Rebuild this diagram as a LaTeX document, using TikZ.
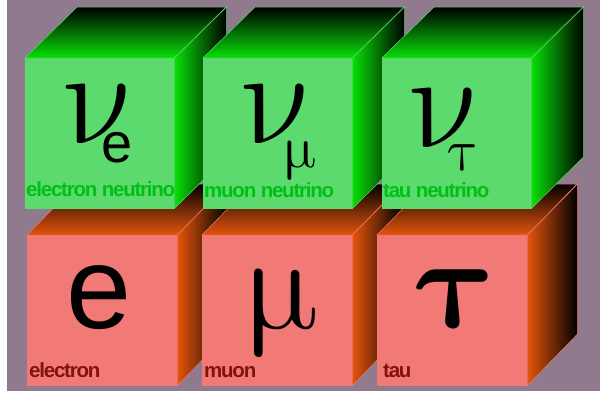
\RequirePackage{fix-cm}
\documentclass[tikz,border=0pt]{standalone}
\usepackage{fontspec}
\setmainfont{Liberation Sans}
\newfontfamily\labelfont[LetterSpace=-6,UprightFont=* Bold]{Liberation Sans}
\usetikzlibrary{calc}
\definecolor{bgpurple}{RGB}{143,122,142}
\definecolor{nufront}{RGB}{93,218,110}
\definecolor{nubright}{RGB}{8,222,8}
\definecolor{nutext}{RGB}{0,192,24}
\definecolor{lepfront}{RGB}{242,122,118}
\definecolor{leporange}{RGB}{228,84,12}
\definecolor{leptext}{RGB}{128,20,10}
\tikzset{
    nuface/.style={rectangle, draw=nufront, fill=nufront, line width=0.5pt, minimum width=149pt, minimum height=150pt, inner sep=0pt, anchor=north west},
    nutop/.style={top color=black, bottom color=nubright, draw=nufront, line width=0.5pt},
    nuside/.style={left color=nubright, right color=black, draw=nufront, line width=0.5pt},
    lepface/.style={rectangle, draw=lepfront, fill=lepfront, line width=0.5pt, minimum width=150pt, minimum height=150pt, inner sep=0pt, anchor=north west},
    leptop/.style={top color=black, bottom color=leporange, draw=lepfront, line width=0.5pt},
    lepside/.style={left color=leporange, right color=black, draw=lepfront, line width=0.5pt},
    greek/.style={inner sep=0pt, anchor=base west, transform shape, font=\fontsize{#1}{#1}\selectfont},
    boldgreek/.style={inner sep=0pt, anchor=base west, transform shape, font=\boldmath\fontsize{#1}{#1}\selectfont},
    bigletter/.style={inner sep=0pt, anchor=base west, font=\fontsize{117}{117}\selectfont},
    subletter/.style={inner sep=0pt, anchor=base west, font=\fontsize{56}{56}\selectfont},
    nulabel/.style={inner sep=0pt, anchor=base west, text=nutext, font=\labelfont\fontsize{20.5}{20.5}\selectfont},
    leplabel/.style={inner sep=0pt, anchor=base west, text=leptext, font=\labelfont\fontsize{20.5}{20.5}\selectfont},
}

\begin{document}
\begin{tikzpicture}[x=1pt, y=-1pt]
    \useasboundingbox (0,0) rectangle (600,397);
    \fill[bgpurple] (7,0) rectangle (600,391);

    % charged leptons (back row)
    \foreach \x/\nm in {27/ecube, 202/mucube, 377/taucube}{
        \node[lepface] (\nm) at (\x,235) {};
        \shade[leptop] (\nm.north west) -- ++(50,-51) -- ++(150,0) -- (\nm.north east) -- cycle;
        \shade[lepside] (\nm.north east) -- ++(50,-51) -- ++(0,150) -- (\nm.south east) -- cycle;
    }

    % neutrinos (front row)
    \foreach \x/\nm in {25/nuecube, 203/numucube, 382/nutaucube}{
        \node[nuface] (\nm) at (\x,58) {};
        \shade[nutop] (\nm.north west) -- ++(52,-51) -- ++(149,0) -- (\nm.north east) -- cycle;
        \shade[nuside] (\nm.north east) -- ++(52,-51) -- ++(0,150) -- (\nm.south east) -- cycle;
    }

    % greek symbols, upright
    \foreach \nm/\x/\y/\s/\g in {nuesym/70/143/135/\nu, numusym/248/143/135/\nu, nutausym/416/147/135/\nu,
                                 numusub/283/167/60/\mu, nutausub/451/170/60/\tau,
                                 musym/244/328/135/\mu}{
        \begin{scope}[shift={(\x,\y)}, xslant=-0.25]
            \node[greek=\s] (\nm) at (0,0) {$\g$};
        \end{scope}
    }
    \begin{scope}[shift={(422,327)}, xslant=-0.25]
        \node[boldgreek=130] (tausym) at (0,0) {$\tau$};
    \end{scope}
    \node[subletter] (nuesub) at (101,162) {e};
    \node[bigletter] (esym) at (66,328) {e};

    % labels
    \node[nulabel] (nuelabel) at (26,196) {electron neutrino};
    \node[nulabel] (numulabel) at (204,197) {muon neutrino};
    \node[nulabel] (nutaulabel) at (383,197) {tau neutrino};
    \node[leplabel] (elabel) at (29,377) {electron};
    \node[leplabel] (mulabel) at (204,377) {muon};
    \node[leplabel] (taulabel) at (383,377) {tau};
\end{tikzpicture}
\end{document}
